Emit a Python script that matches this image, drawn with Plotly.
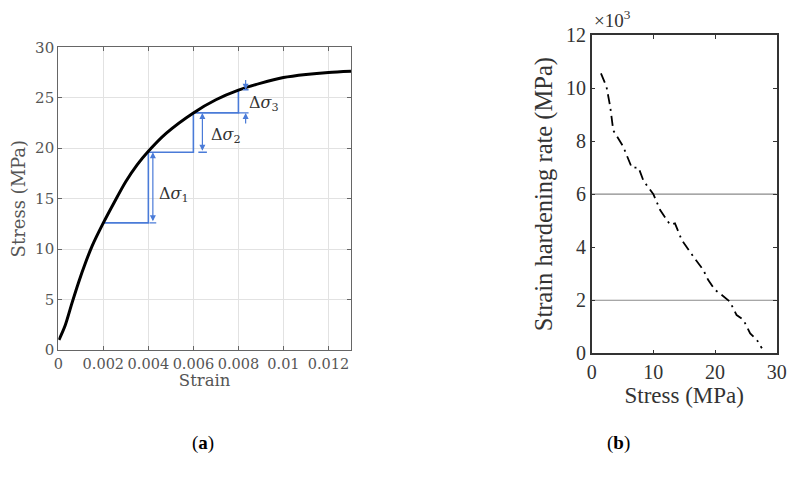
import plotly.graph_objects as go

# ---- data (a): stress-strain curve
strain = [0.00003, 0.0003, 0.0006, 0.0009, 0.0012, 0.0015, 0.002, 0.0025, 0.003, 0.0035,
          0.004, 0.0048, 0.006, 0.007, 0.008, 0.009, 0.010, 0.011, 0.012, 0.013]
stress = [1.0, 2.4, 4.6, 6.7, 8.6, 10.3, 12.6, 14.7, 16.7, 18.35,
          19.7, 21.5, 23.5, 24.8, 25.75, 26.45, 27.0, 27.3, 27.5, 27.62]

# staircase (a)
stair_x = [0.002, 0.004, 0.004, 0.006, 0.006, 0.008, 0.008]
stair_y = [12.6, 12.6, 19.6, 19.6, 23.5, 23.5, 25.75]

# ---- data (b): strain hardening rate (x10^3 MPa) vs stress
hr_stress = [1.5, 2.4, 3.0, 3.5, 4.05, 5.1, 6.5, 7.6, 8.4, 10.0, 11.1, 12.7, 13.5, 14.6,
             16.5, 18.1, 18.9, 20.0, 21.1, 22.4, 23.5, 24.6, 25.7, 26.2, 26.8, 27.6]
hr_rate = [10.55, 10.05, 9.3, 8.4, 8.2, 7.8, 7.0, 7.0, 6.5, 6.0, 5.4, 4.85, 4.9, 4.27,
           3.64, 3.14, 2.76, 2.39, 2.2, 1.95, 1.44, 1.26, 0.75, 0.63, 0.5, 0.19]

xticks_a = [0, 0.002, 0.004, 0.006, 0.008, 0.01, 0.012]
xticklabels_a = ["0", "0.002", "0.004", "0.006", "0.008", "0.01", "0.012"]
yticks_a = [0, 5, 10, 15, 20, 25, 30]
xticks_b = [0, 10, 20, 30]
yticks_b = [0, 2, 4, 6, 8, 10, 12]
ref_lines_b = [6, 2]

BLUE = "#4A7BD8"
SERIF_A = "DejaVu Serif"
SERIF = "Liberation Serif"
GRAY = "#555555"
DARK = "#333333"

# page has an 8px body margin; figure sized to fit the window
OFF = 8
W, H = 797 - 2 * OFF, 481 - 2 * OFF


def px(xw):
    return (xw - OFF) / W


def py(yw):
    return 1 - (yw - OFF) / H


fig = go.Figure()
fig.add_trace(go.Scatter(x=stair_x, y=stair_y, mode="lines",
                         line=dict(color=BLUE, width=1.6), xaxis="x", yaxis="y", showlegend=False))
fig.add_trace(go.Scatter(x=strain, y=stress, mode="lines",
                         line=dict(color="black", width=3, shape="spline", smoothing=0.8),
                         xaxis="x", yaxis="y", showlegend=False))

for yv in ref_lines_b:
    fig.add_trace(go.Scatter(x=[0, 30], y=[yv, yv], mode="lines", line=dict(color="#8a8a8a", width=1.2),
                             xaxis="x2", yaxis="y2", showlegend=False))
fig.add_trace(go.Scatter(x=hr_stress, y=hr_rate, mode="lines",
                         line=dict(color="black", width=1.8, dash="10px,5px,2px,5px"),
                         xaxis="x2", yaxis="y2", showlegend=False))

ax_a = dict(showline=True, linecolor="#666666", linewidth=1.2, mirror="ticks", ticks="inside",
            ticklen=4, tickcolor="#666666", zeroline=False, showgrid=True, gridcolor="#e2e2e2",
            automargin=False)
ax_b = dict(showline=True, linecolor=DARK, linewidth=1.5, mirror="ticks", ticks="inside",
            ticklen=4, tickcolor=DARK, zeroline=False, showgrid=False, automargin=False)

fig.update_layout(
    width=W, height=H, margin=dict(l=0, r=0, t=0, b=0),
    paper_bgcolor="white", plot_bgcolor="white",
    xaxis=dict(domain=[px(58.3), px(351)], range=[0, 0.013], tickvals=xticks_a, ticktext=xticklabels_a,
               anchor="y", tickfont=dict(family=SERIF_A, size=14.5, color=GRAY),
               title=dict(text="Strain", font=dict(family=SERIF_A, size=16.5, color=GRAY), standoff=1),
               **ax_a),
    yaxis=dict(domain=[py(350), py(47.3)], range=[0, 30], tickvals=yticks_a, anchor="x",
               tickfont=dict(family=SERIF_A, size=15, color=GRAY),
               title=dict(text="Stress (MPa)", font=dict(family=SERIF_A, size=18, color=GRAY), standoff=4),
               **ax_a),
    xaxis2=dict(domain=[px(591.7), px(776.7)], range=[0, 30], tickvals=xticks_b, anchor="y2",
                tickfont=dict(family=SERIF, size=20, color=DARK),
                title=dict(text="Stress (MPa)", font=dict(family=SERIF, size=23, color=DARK), standoff=0),
                **ax_b),
    yaxis2=dict(domain=[py(353.3), py(35)], range=[0, 12], tickvals=yticks_b, anchor="x2",
                tickfont=dict(family=SERIF, size=20, color=DARK),
                title=dict(text="Strain hardening rate (MPa)", font=dict(family=SERIF, size=24.5, color=DARK),
                           standoff=6),
                **ax_b),
)

ann = []
arrows = [
    (0.0042, 12.6, 19.6),
    (0.0064, 19.6, 23.5),
]
for xa, y0, y1 in arrows:
    ann.append(dict(x=xa, y=y1, ax=xa, ay=y0, xref="x", yref="y", axref="x", ayref="y", text="",
                    showarrow=True, arrowhead=2, arrowside="end+start", arrowsize=1, arrowwidth=1.2,
                    arrowcolor=BLUE))
fig.add_trace(go.Scatter(x=[0.00405, 0.00435, None, 0.00622, 0.0066], y=[12.6, 12.6, None, 19.6, 19.6],
                         mode="lines", line=dict(color=BLUE, width=1.4), xaxis="x", yaxis="y", showlegend=False))
fig.add_trace(go.Scatter(x=[0.008, 0.00845], y=[23.5, 23.5],
                         mode="lines", line=dict(color=BLUE, width=1.4), xaxis="x", yaxis="y", showlegend=False))
fig.add_trace(go.Scatter(x=[0.0082, 0.00845], y=[25.8, 25.8],
                         mode="lines", line=dict(color=BLUE, width=1.4), xaxis="x", yaxis="y", showlegend=False))
ann.append(dict(x=0.00832, y=25.8, ax=0.00832, ay=26.9, xref="x", yref="y", axref="x", ayref="y", text="",
                showarrow=True, arrowhead=2, arrowsize=1, arrowwidth=1.2, arrowcolor=BLUE))
ann.append(dict(x=0.00832, y=23.5, ax=0.00832, ay=22.3, xref="x", yref="y", axref="x", ayref="y", text="",
                showarrow=True, arrowhead=2, arrowsize=1, arrowwidth=1.2, arrowcolor=BLUE))

labels = [(0.00512, 15.4, "Δ<i>σ</i><sub>1</sub>"), (0.00745, 21.25, "Δ<i>σ</i><sub>2</sub>"),
          (0.00915, 24.45, "Δ<i>σ</i><sub>3</sub>")]
for xl, yl, t in labels:
    ann.append(dict(x=xl, y=yl, xref="x", yref="y", text=t, showarrow=False,
                    font=dict(family=SERIF_A, size=16, color=DARK)))

ann.append(dict(x=0.0, y=1.0, xref="x2 domain", yref="y2 domain", xanchor="left", yanchor="bottom",
                text="×10<sup>3</sup>", showarrow=False, yshift=2,
                font=dict(family=SERIF, size=19, color=DARK)))
ann.append(dict(x=px(190), y=py(456), xref="paper", yref="paper", text="(<b>a</b>)", showarrow=False,
                font=dict(family=SERIF, size=19, color="black")))
ann.append(dict(x=px(632), y=py(456), xref="paper", yref="paper", text="(<b>b</b>)", showarrow=False,
                font=dict(family=SERIF, size=19, color="black")))
fig.update_layout(annotations=ann)

fig.write_html("out.html")
